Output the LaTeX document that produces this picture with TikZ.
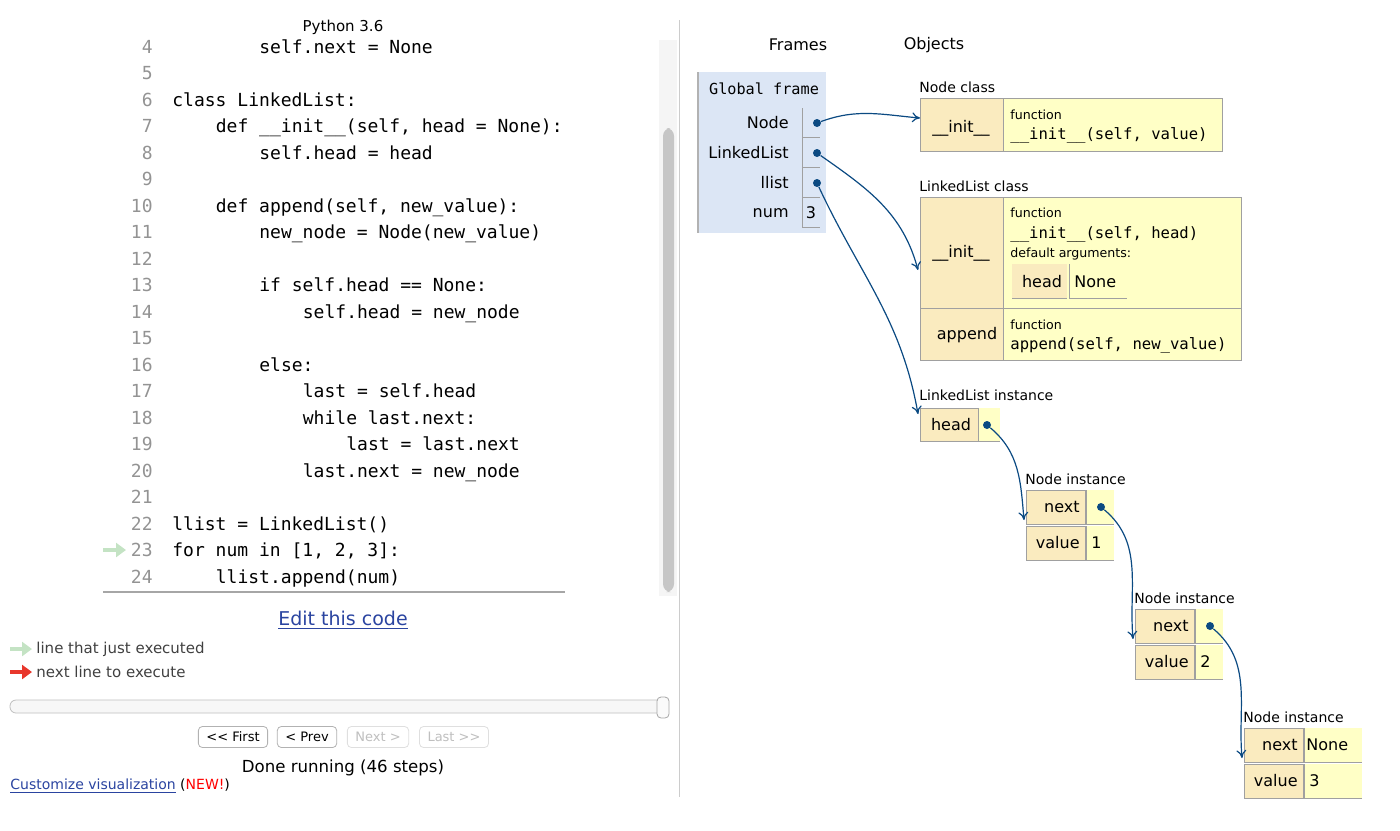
\documentclass[tikz,border=0pt]{standalone}
\usepackage{fontspec}
\setmainfont{DejaVu Sans}
\setmonofont{DejaVu Sans Mono}
\usetikzlibrary{positioning,arrows.meta}
\definecolor{keyfill}{HTML}{FAEBBF}
\definecolor{valfill}{HTML}{FFFFC6}
\definecolor{framefill}{HTML}{DCE6F5}
\definecolor{cellline}{HTML}{A0A0A0}
\definecolor{ptr}{HTML}{0B4A82}
\definecolor{linkblue}{HTML}{2A44A0}
\definecolor{greenarr}{HTML}{C4E3C4}
\definecolor{redarr}{HTML}{E8372C}
\begin{document}
\begin{tikzpicture}[x=0.5pt,y=-0.5pt,
    code/.style={anchor=base west, inner sep=0pt, font=\fontsize{9}{10}\ttfamily},
    lineno/.style={anchor=base east, inner sep=0pt, text=gray!85, font=\fontsize{9}{10}\ttfamily},
    ui/.style={inner sep=0pt, font=\fontsize{7.5}{9}\selectfont},
    small/.style={anchor=base west, inner sep=0pt, font=\fontsize{6.3}{7}\selectfont},
    fun/.style={anchor=base west, inner sep=0pt, font=\fontsize{7.8}{9}\ttfamily},
    cell/.style={inner sep=0pt, font=\fontsize{8}{9}\selectfont},
    keycell/.style={fill=keyfill, draw=cellline, line width=0.5pt},
    valcell/.style={fill=valfill, draw=cellline, line width=0.5pt},
    button/.style={draw=gray!60, rounded corners=2pt, fill=white, minimum height=10.5pt, inner xsep=4pt, inner ysep=2pt, font=\fontsize{6.5}{7}\selectfont},
    dot/.style={circle, fill=ptr, inner sep=0pt, minimum size=4pt},
    pointer/.style={ptr, line width=0.6pt, -{To[length=4pt,width=5pt]}}
  ]
\useasboundingbox (0,0) rectangle (1400,830);

% code panel
\node[ui] (title) at (343,27) {Python 3.6};
\foreach \n/\i/\t in {4/2/{self.next = None}, 5/0/{}, 6/0/{class LinkedList:},
    7/1/{def \_\_init\_\_(self, head = None):}, 8/2/{self.head = head}, 9/0/{},
    10/1/{def append(self, new\_value):}, 11/2/{new\_node = Node(new\_value)}, 12/0/{},
    13/2/{if self.head == None:}, 14/3/{self.head = new\_node}, 15/0/{},
    16/2/{else:}, 17/3/{last = self.head}, 18/3/{while last.next:},
    19/4/{last = last.next}, 20/3/{last.next = new\_node}, 21/0/{},
    22/0/{llist = LinkedList()}, 23/0/{for num in [1, 2, 3]:}, 24/1/{llist.append(num)}}{
  \node[lineno] (no\n) at (153,{53+26.5*(\n-4)}) {\n};
  \node[code] (line\n) at ({172+43.5*\i},{53+26.5*(\n-4)}) {\t};
}
\draw[gray!70, line width=0.6pt] (103,592) -- (565,592);
\draw[greenarr, line width=2pt, -{Triangle[length=5pt,width=7pt]}] (103,550) -- (126,550);
\fill[gray!8] (659,40) rectangle (677,596);
\fill[gray!45, rounded corners=4pt] (663,128) rectangle (674,592);
\node[ui, font=\fontsize{9.5}{11}\selectfont, text=linkblue] (edit) at (343,620) {\underline{Edit this code}};
\draw[greenarr, line width=2pt, -{Triangle[length=5pt,width=7pt]}] (10,649) -- (32,649);
\node[ui, anchor=west, text=black!75] (just) at (36,649) {line that just executed};
\draw[redarr, line width=2pt, -{Triangle[length=5pt,width=7pt]}] (10,672) -- (32,672);
\node[ui, anchor=west, text=black!75] (next) at (36,672) {next line to execute};
\draw[gray!50, fill=gray!6, rounded corners=3pt] (10,700) rectangle (668,713);
\draw[gray!70, fill=gray!4, rounded corners=2pt] (657,697) rectangle (669,718);
\node[button] (first) at (233,737) {{<}{<} First};
\node[button] (prev) at (307,737) {{<} Prev};
\node[button, draw=gray!25, text=gray!50] (nextb) at (378,737) {Next {>}};
\node[button, draw=gray!25, text=gray!50] (last) at (454,737) {Last {>}{>}};
\node[ui, font=\fontsize{8.3}{10}\selectfont] (done) at (343,768) {Done running (46 steps)};
\node[ui, anchor=west, font=\fontsize{7}{8}\selectfont] (custom) at (10,786) {\textcolor{linkblue}{\underline{Customize visualization}} (\textcolor{red}{NEW!})};
\draw[gray!40] (679,20) -- (679,797);

% frames
\node[ui, font=\fontsize{8}{9}\selectfont] (frames) at (798,45) {Frames};
\node[ui, font=\fontsize{8}{9}\selectfont] (objects) at (934,45) {Objects};
\fill[framefill] (698,72) rectangle (826,233);
\draw[gray!60, line width=0.8pt] (698,72) -- (698,233);
\node[ui, font=\fontsize{7.6}{9}\ttfamily] (global) at (764,89) {Global frame};
\foreach \v/\y in {Node/123, LinkedList/153, llist/183, num/213}{
  \node[cell, anchor=east] (\v lbl) at (789,\y) {\v};
  \draw[cellline, line width=0.5pt] (802,\y-15) -- (802,\y+14) -- (820,\y+14);
}
\node[cell] (numval) at (811,213) {3};
\node[dot] (nodeptr) at (817,123) {};
\node[dot] (llptr) at (817,153) {};
\node[dot] (llistptr) at (817,183) {};

% Node class
\node[small, font=\fontsize{7}{8}\selectfont] (nodecls) at (919,92) {Node class};
\draw[keycell] (920,98) rectangle (1003,151);
\draw[valcell] (1003,98) rectangle (1222,151);
\node[cell] (ninit) at (961,128) {\_\_init\_\_};
\coordinate (ninitin) at (920,118);
\node[small] at (1010,119) {function};
\node[fun] at (1010,139) {\_\_init\_\_(self, value)};

% LinkedList class
\node[small, font=\fontsize{7}{8}\selectfont] (llcls) at (919,191) {LinkedList class};
\draw[keycell] (920,197) rectangle (1003,308);
\draw[valcell] (1003,197) rectangle (1241,308);
\draw[keycell] (920,308) rectangle (1003,360);
\draw[valcell] (1003,308) rectangle (1241,360);
\node[cell] (llinit) at (961,253) {\_\_init\_\_};
\coordinate (llinitin) at (918,270);
\node[small] at (1010,217) {function};
\node[fun] at (1010,238) {\_\_init\_\_(self, head)};
\node[small] at (1010,257) {default arguments:};
\fill[keyfill] (1012,264) rectangle (1067,298);
\draw[cellline, line width=0.5pt] (1012,298) -- (1067,298) (1069,264) -- (1069,298) -- (1127,298);
\node[cell] (dhead) at (1042,282) {head};
\node[cell, anchor=west] (dnone) at (1074,282) {None};
\node[cell] (append) at (967,335) {append};
\node[small] at (1010,329) {function};
\node[fun] at (1010,349) {append(self, new\_value)};

% LinkedList instance
\node[small, font=\fontsize{7}{8}\selectfont] (llinst) at (919,400) {LinkedList instance};
\draw[keycell] (920,408) rectangle (978,441);
\fill[valfill] (978,408) rectangle (1000,441);
\draw[cellline, line width=0.5pt] (978,408) -- (978,441) -- (1000,441);
\node[cell] (headkey) at (951,425) {head};
\node[dot] (headptr) at (987,425) {};
\coordinate (llinstin) at (918,414);

% Node instances
\foreach \k/\x/\y/\w/\val in {1/1026/490/1114/1, 2/1135/609/1223/2, 3/1244/728/1362/3}{
  \node[small, font=\fontsize{7}{8}\selectfont] (ninst\k) at (\x-1,\y-6) {Node instance};
  \draw[keycell] (\x,\y) rectangle (\x+59,\y+34);
  \draw[keycell] (\x,\y+36) rectangle (\x+59,\y+70);
  \fill[valfill] (\x+60,\y) rectangle (\w,\y+34);
  \fill[valfill] (\x+60,\y+36) rectangle (\w,\y+70);
  \draw[cellline, line width=0.5pt] (\x+60,\y) -- (\x+60,\y+34) -- (\w,\y+34)
    (\x+60,\y+36) -- (\x+60,\y+70) -- (\w,\y+70);
  \node[cell, anchor=east] (nextkey\k) at (\x+54,\y+17) {next};
  \node[cell, anchor=east] (valkey\k) at (\x+54,\y+53) {value};
  \node[cell, anchor=west] (val\k) at (\x+65,\y+53) {\val};
  \coordinate (ninstin\k) at (\x-2,\y+30);
}
\node[cell, anchor=west] (none3) at (1306,745) {None};
\node[dot] (nextptr1) at (1101,507) {};
\node[dot] (nextptr2) at (1210,626) {};

% pointers
\draw[pointer] (nodeptr) to[out=20, in=175] (ninitin);
\draw[pointer] (llptr) to[out=-35, in=105] (llinitin);
\draw[pointer] (llistptr) to[out=-65, in=100] (llinstin);
\draw[pointer] (headptr) to[out=-40, in=95] (ninstin1);
\draw[pointer] (nextptr1) to[out=-40, in=95] (ninstin2);
\draw[pointer] (nextptr2) to[out=-40, in=95] (ninstin3);
\end{tikzpicture}
\end{document}
